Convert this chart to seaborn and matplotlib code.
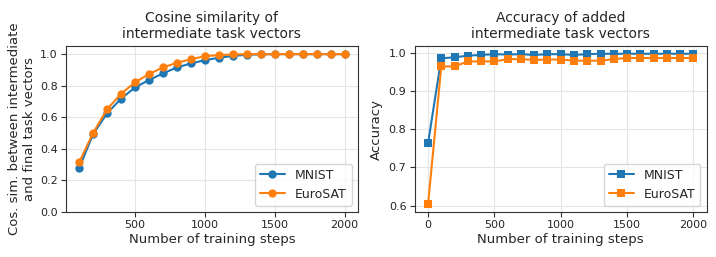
import matplotlib
matplotlib.use("Agg")
import matplotlib.pyplot as plt
import pandas as pd
import seaborn as sns

# cosine similarity panel
cos_steps = [100, 200, 300, 400, 500, 600, 700, 800, 900, 1000,
             1100, 1200, 1300, 1400, 1500, 1600, 1700, 1800, 1900, 2000]
cos_mnist = [0.278, 0.493, 0.625, 0.718, 0.789, 0.836, 0.878, 0.916, 0.941, 0.962,
             0.977, 0.989, 0.996, 0.999, 1.0, 1.0, 1.0, 1.0, 1.0, 1.0]
cos_eurosat = [0.314, 0.501, 0.651, 0.749, 0.821, 0.874, 0.916, 0.945, 0.968, 0.987,
               0.994, 0.998, 1.0, 1.0, 1.0, 1.0, 1.0, 1.0, 1.0, 1.0]

# accuracy panel
acc_steps = [0, 100, 200, 300, 400, 500, 600, 700, 800, 900, 1000,
             1100, 1200, 1300, 1400, 1500, 1600, 1700, 1800, 1900, 2000]
acc_mnist = [0.763, 0.986, 0.989, 0.993, 0.995, 0.997, 0.996, 0.997, 0.995, 0.997, 0.997,
             0.995, 0.997, 0.998, 0.998, 0.998, 0.998, 0.998, 0.998, 0.998, 0.998]
acc_eurosat = [0.603, 0.965, 0.965, 0.978, 0.978, 0.978, 0.984, 0.984, 0.982, 0.983, 0.983,
               0.980, 0.980, 0.980, 0.984, 0.987, 0.987, 0.987, 0.987, 0.987, 0.987]

datasets = ["MNIST", "EuroSAT"]
colors = {"MNIST": "#1f77b4", "EuroSAT": "#ff7f0e"}

sns.set_theme(style="ticks")
plt.rcParams["font.family"] = ["DejaVu Sans"]

cos_df = pd.DataFrame({
    "step": cos_steps * 2,
    "value": cos_mnist + cos_eurosat,
    "dataset": ["MNIST"] * len(cos_steps) + ["EuroSAT"] * len(cos_steps),
})
acc_df = pd.DataFrame({
    "step": acc_steps * 2,
    "value": acc_mnist + acc_eurosat,
    "dataset": ["MNIST"] * len(acc_steps) + ["EuroSAT"] * len(acc_steps),
})

fig, (ax1, ax2) = plt.subplots(1, 2, figsize=(7.16, 2.57), dpi=100)

sns.lineplot(data=cos_df, x="step", y="value", hue="dataset", hue_order=datasets,
             palette=colors, marker="o", markersize=6, markeredgewidth=0,
             linewidth=1.5, ax=ax1)
sns.lineplot(data=acc_df, x="step", y="value", hue="dataset", hue_order=datasets,
             palette=colors, marker="s", markersize=6, markeredgewidth=0,
             linewidth=1.5, ax=ax2)

ax1.set_ylim(0, 1.05)
ax1.set_yticks([0.0, 0.2, 0.4, 0.6, 0.8, 1.0])
ax1.set_xticks([500, 1000, 1500, 2000])
ax1.set_title("Cosine similarity of\nintermediate task vectors", fontsize=10)
ax1.set_ylabel("Cos. sim. between intermediate\nand final task vectors", fontsize=9.5,
               labelpad=3)

ax2.set_yticks([0.6, 0.7, 0.8, 0.9, 1.0])
ax2.set_xticks([0, 500, 1000, 1500, 2000])
ax2.set_title("Accuracy of added\nintermediate task vectors", fontsize=10)
ax2.set_ylabel("Accuracy", fontsize=9.5)

for ax in (ax1, ax2):
    ax.set_xlabel("Number of training steps", fontsize=9.5, labelpad=2)
    ax.tick_params(labelsize=8, length=3.5, width=0.8, color="#333333", pad=2.5)
    ax.grid(True, color="#e5e5e5", linewidth=0.8)
    for s in ax.spines.values():
        s.set_color("#333333")
        s.set_linewidth(0.8)
    ax.legend(loc="lower right", fontsize=9, title=None)

fig.subplots_adjust(left=0.092, right=0.987, top=0.82, bottom=0.175, wspace=0.195)
fig.savefig("out.png", dpi=100)
